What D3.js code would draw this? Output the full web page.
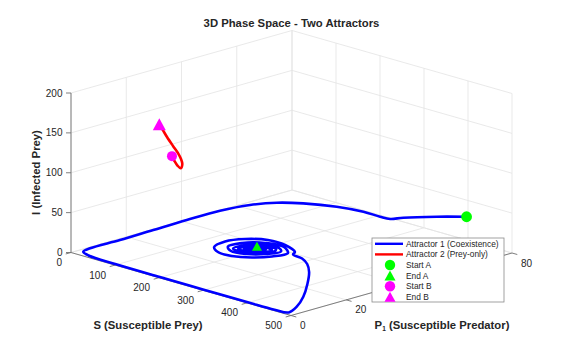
<!DOCTYPE html>
<html><head><meta charset="utf-8">
<script src="https://cdn.jsdelivr.net/npm/d3@7"></script>
<style>
body{margin:0;background:#fff}
svg{display:block}
text{font-family:"Liberation Sans",Arial,sans-serif;fill:#262626}
</style>
</head><body>
<svg id="chart" width="577" height="347"></svg>
<script>
// ---------- data ----------
const titleText = "3D Phase Space - Two Attractors";
const sTicks = [0, 100, 200, 300, 400, 500];
const pTicks = [0, 20, 40, 60, 80];
const iTicks = [0, 50, 100, 150, 200];
const sLabel = "S (Susceptible Prey)";
const iLabel = "I (Infected Prey)";

// Attractor 1 (Coexistence): S, P1, I along the trajectory
const a1S = [431.3,397.4,357.3,341.0,327.0,301.0,263.7,218.9,186.3,159.0,135.2,115.5,92.2,62.9,30.3,20.3,35,100,200,300,400,460,490,
  487.3,477.1,456.3,429.4,401.8,373.9,344.6,
  330.6,291.3,252.2,222.2,209.6,219.2,243.6,275.4,304.0,322.6,326.7,298.2,260.8,234.8,233.0,254.3,284.4,305.8,312.8,296.6,
  266.5,245.9,246.6,266.5,292.8,304.9,297.1,273.6,254.4,254.2,273.3,293.3,296.6,279.9,264.1,263.0,278.0,289.6,283.9,270.6,
  269.8,281.7,281.3,264.5];
const a1P = [74.5,69.1,63.4,61.2,59.8,57.9,54.2,49.2,44.8,39.5,32.4,23.5,15.1,7.7,2.1,1.2,0.8,0.4,0.3,0.3,0.3,0.4,0.8,
  4.1,8.1,12.9,17.8,21.5,24.1,25.5,
  28.4,31.1,31.1,27.6,22.4,16.9,14.4,14.4,17.1,21.4,26.5,29.6,28.7,24.5,19.7,17.4,18.4,21.9,26.2,28.1,
  27.0,23.1,19.4,18.7,21.1,24.9,26.9,26.3,23.2,20.0,19.8,22.4,25.5,26.0,23.5,20.7,21.2,23.7,25.4,23.9,
  21.8,22.5,24.3,25.2];
const a1I = [40,40,38,36,38,42,46,48,48,46,42,36,28,18,8,3,1,0.6,0.5,0.5,0.5,0.6,1.5,
  5,12,20,26,28,28,27,
  25,25,25,25,25,25,25,25,25,25,25,25,25,25,25,25,25,25,25,25,
  25,25,25,25,25,25,25,25,25,25,25,25,25,25,25,25,25,25,25,25,
  25,25,25,25];

// Attractor 2 (Prey-only)
const a2S = [229.5,235.2,242.0,249.3,253.0,250.0,243.2,231.8,218.2,208.0,200.7];
const a2P = [0,0,0,0,0,0,0,0,0,0,0];
const a2I = [157.1,151.9,147.3,145.0,151.0,156.7,163.1,170.3,179.3,187.1,192.5];

const legendLabels = ["Attractor 1 (Coexistence)","Attractor 2 (Prey-only)","Start A","End A","Start B","End B"];

// ---------- projection (orthographic 3D box) ----------
const svg = d3.select("#chart");
const sScale = d3.scaleLinear().domain([0, 500]).range([0, 1]);
const pScale = d3.scaleLinear().domain([0, 80]).range([0, 1]);
const iScale = d3.scaleLinear().domain([0, 200]).range([0, 1]);
const O = [71, 252.5], eS = [220, 63], eP = [221, -62.5], eI = [0, -159.5];
function proj(s, p, i) {
  const u = sScale(s), v = pScale(p), w = iScale(i);
  return [O[0] + eS[0]*u + eP[0]*v + eI[0]*w, O[1] + eS[1]*u + eP[1]*v + eI[1]*w];
}
const sMax = 500, pMax = 80, iMax = 200;
const legendBox = {x: 372, y: 238, w: 132, h: 64};
const hiddenByLegend = (x, y) => x > legendBox.x - 4 && x < legendBox.x + legendBox.w && y > legendBox.y && y < legendBox.y + legendBox.h + 4;

// ---------- grid ----------
const gGrid = svg.append("g").attr("stroke", "#e3e3e3").attr("stroke-width", 0.8).attr("fill", "none");
function seg(g, a, b) {
  const A = proj(...a), B = proj(...b);
  g.append("line").attr("x1", A[0]).attr("y1", A[1]).attr("x2", B[0]).attr("y2", B[1]);
}
sTicks.forEach(s => { seg(gGrid, [s,0,0], [s,pMax,0]); seg(gGrid, [s,pMax,0], [s,pMax,iMax]); });
pTicks.forEach(p => { seg(gGrid, [0,p,0], [sMax,p,0]); seg(gGrid, [0,p,0], [0,p,iMax]); });
iTicks.forEach(i => { seg(gGrid, [0,0,i], [0,pMax,i]); seg(gGrid, [0,pMax,i], [sMax,pMax,i]); });

// ---------- axes ----------
const gAx = svg.append("g").attr("stroke", "#707070").attr("stroke-width", 0.9);
seg(gAx, [0,0,0], [sMax,0,0]);
seg(gAx, [sMax,0,0], [sMax,pMax,0]);
seg(gAx, [0,0,0], [0,0,iMax]);

const tickLen = 5.5;
const dP = [-0.962, 0.272], dS = [0.961, 0.275];
sTicks.forEach(s => {
  const [x, y] = proj(s, 0, 0);
  gAx.append("line").attr("x1", x).attr("y1", y).attr("x2", x + dP[0]*tickLen).attr("y2", y + dP[1]*tickLen);
  svg.append("text").attr("x", x - 9).attr("y", y + 13.5).attr("text-anchor", "end")
    .attr("font-size", 10).text(s);
});
pTicks.forEach(p => {
  const [x, y] = proj(sMax, p, 0);
  gAx.append("line").attr("x1", x).attr("y1", y).attr("x2", x + dS[0]*tickLen).attr("y2", y + dS[1]*tickLen);
  // labels that sit underneath the legend box are not visible in the chart
  if (hiddenByLegend(x + 9, y + 10)) return;
  svg.append("text").attr("x", x + 9).attr("y", y + 13.5).attr("text-anchor", "start")
    .attr("font-size", 10).text(p);
});
iTicks.forEach(i => {
  const [x, y] = proj(0, 0, i);
  gAx.append("line").attr("x1", x).attr("y1", y).attr("x2", x - 5).attr("y2", y);
  svg.append("text").attr("x", x - 8.5).attr("y", y + 3.5).attr("text-anchor", "end")
    .attr("font-size", 10).text(i);
});

// axis labels
svg.append("text").attr("x", 148).attr("y", 329).attr("text-anchor", "middle")
  .attr("font-size", 11.3).attr("font-weight", "bold").text(sLabel);
const pl = svg.append("text").attr("x", 442).attr("y", 329).attr("text-anchor", "middle")
  .attr("font-size", 11.3).attr("font-weight", "bold");
pl.append("tspan").text("P");
pl.append("tspan").attr("font-size", 6.5).attr("dy", 2).text("1");
pl.append("tspan").attr("dy", -2).text(" (Susceptible Predator)");
svg.append("text").attr("transform", "translate(40,172.5) rotate(-90)").attr("text-anchor", "middle")
  .attr("font-size", 11.3).attr("font-weight", "bold").text(iLabel);

// title
svg.append("text").attr("x", 291.5).attr("y", 27).attr("text-anchor", "middle")
  .attr("font-size", 11.3).attr("font-weight", "bold").text(titleText);

// ---------- trajectories ----------
const line = d3.line().curve(d3.curveCatmullRom.alpha(0.5));
const pts1 = a1S.map((s, k) => proj(s, a1P[k], a1I[k]));
const pts2 = a2S.map((s, k) => proj(s, a2P[k], a2I[k]));
svg.append("path").attr("d", line(pts2)).attr("fill", "none").attr("stroke", "#ff0000")
  .attr("stroke-width", 2.6).attr("stroke-linejoin", "round").attr("stroke-linecap", "round");
svg.append("path").attr("d", line(pts1)).attr("fill", "none").attr("stroke", "#0000ff")
  .attr("stroke-width", 2.6).attr("stroke-linejoin", "round").attr("stroke-linecap", "round");

function tri(w, h) { return `M0,${-h/2}L${w/2},${h/2}L${-w/2},${h/2}Z`; }
function circleAt(pt, r, col) {
  svg.append("circle").attr("cx", pt[0]).attr("cy", pt[1]).attr("r", r).attr("fill", col);
}
function triAt(pt, w, h, col) {
  svg.append("path").attr("d", tri(w, h)).attr("transform", `translate(${pt[0]},${pt[1]})`).attr("fill", col);
}
circleAt(pts1[0], 5.4, "#00ff00");
triAt(pts1[pts1.length - 1], 10, 9, "#00ff00");
circleAt(pts2[0], 5, "#ff00ff");
triAt(pts2[pts2.length - 1], 13, 12, "#ff00ff");

// ---------- legend ----------
const lg = svg.append("g");
lg.append("rect").attr("x", legendBox.x).attr("y", legendBox.y).attr("width", legendBox.w).attr("height", legendBox.h)
  .attr("fill", "#fff").attr("stroke", "#8a8a8a").attr("stroke-width", 0.8);
const rowY = d3.scaleLinear().domain([0, 5]).range([243.8, 296.8]);
legendLabels.forEach((lab, k) => {
  const y = rowY(k);
  if (k === 0) lg.append("line").attr("x1", 375).attr("x2", 403).attr("y1", y).attr("y2", y).attr("stroke", "#0000ff").attr("stroke-width", 2.4);
  if (k === 1) lg.append("line").attr("x1", 375).attr("x2", 403).attr("y1", y).attr("y2", y).attr("stroke", "#ff0000").attr("stroke-width", 2.4);
  if (k === 2) lg.append("circle").attr("cx", 390).attr("cy", y).attr("r", 5.2).attr("fill", "#00ff00");
  if (k === 3) lg.append("path").attr("d", tri(11, 10)).attr("transform", `translate(390,${y})`).attr("fill", "#00ff00");
  if (k === 4) lg.append("circle").attr("cx", 390).attr("cy", y).attr("r", 5.2).attr("fill", "#ff00ff");
  if (k === 5) lg.append("path").attr("d", tri(11, 10)).attr("transform", `translate(390,${y})`).attr("fill", "#ff00ff");
  lg.append("text").attr("x", 406).attr("y", y + 3).attr("font-size", 8.4).text(lab);
});
</script>
</body></html>
